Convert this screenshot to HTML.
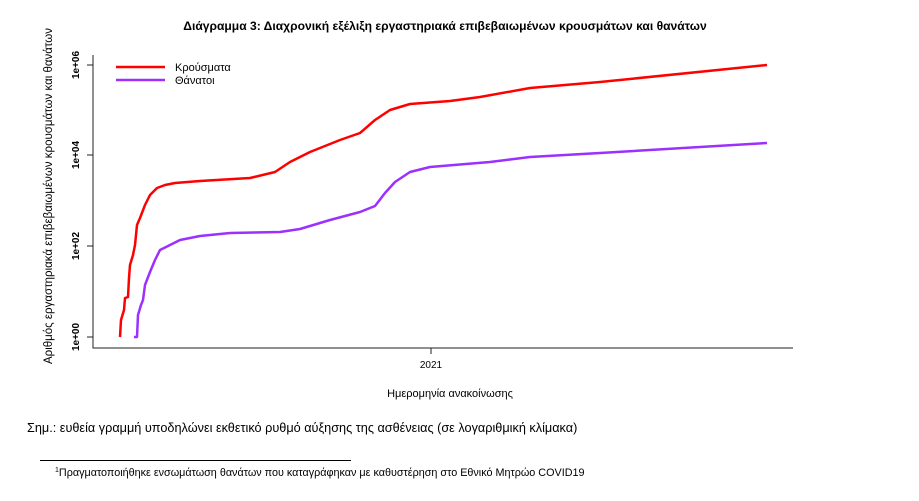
<!DOCTYPE html>
<html><head><meta charset="utf-8"><style>
body{margin:0;background:#fff;width:919px;height:496px;overflow:hidden;font-family:"Liberation Sans",sans-serif}
</style></head><body>
<svg width="919" height="496" viewBox="0 0 919 496" xmlns="http://www.w3.org/2000/svg" font-family="Liberation Sans, sans-serif">
<text x="445" y="30" text-anchor="middle" font-size="12.1" font-weight="bold">Διάγραμμα 3: Διαχρονική εξέλιξη εργαστηριακά επιβεβαιωμένων κρουσμάτων και θανάτων</text>
<g stroke="#222" stroke-width="1" fill="none">
<path d="M93,55 V348 H793"/>
<path d="M87,65 H93 M87,155 H93 M87,246 H93 M87,337 H93 M431,348 V354"/>
</g>
<g font-size="10" font-weight="bold" text-anchor="middle">
<text transform="translate(79,65) rotate(-90)">1e+06</text>
<text transform="translate(79,155) rotate(-90)">1e+04</text>
<text transform="translate(79,246) rotate(-90)">1e+02</text>
<text transform="translate(79,337) rotate(-90)">1e+00</text>
</g>
<text transform="translate(52,196) rotate(-90)" font-size="11.5" text-anchor="middle">Αριθμός εργαστηριακά επιβεβαιωμένων κρουσμάτων και θανάτων</text>
<text x="431" y="368" font-size="10" text-anchor="middle">2021</text>
<text x="450" y="397" font-size="11" text-anchor="middle">Ημερομηνία ανακοίνωσης</text>
<path d="M116,67 H165" stroke="red" stroke-width="2.5"/>
<path d="M116,80 H165" stroke="#9b30ff" stroke-width="2.5"/>
<text x="175" y="71" font-size="11">Κρούσματα</text>
<text x="175" y="84" font-size="11">Θάνατοι</text>
<polyline fill="none" stroke="red" stroke-width="2.5" stroke-linejoin="round" points="120,337 121,320 124,310 125,298 128,297 129,278 130,265 133,255 135,245 137,225 140,218 145,205 150,195 157,188 165,185 175,183 200,181 250,178 275,172 290,162 310,152 340,140 360,133 375,120 390,110 410,104 450,101 480,97 530,88 600,82 767,65"/>
<polyline fill="none" stroke="#9b30ff" stroke-width="2.5" stroke-linejoin="round" points="134,337 137,337 138,315 141,305 143,300 145,285 150,272 155,260 160,250 170,245 180,240 200,236 230,233 280,232 300,229 330,220 360,212 375,206 385,193 395,182 410,172 430,167 490,162 530,157 600,153 767,143"/>
<text x="27" y="432" font-size="12.7">Σημ.: ευθεία γραμμή υποδηλώνει εκθετικό ρυθμό αύξησης της ασθένειας (σε λογαριθμική κλίμακα)</text>
<path d="M40,460.5 H351" stroke="#000" stroke-width="1"/>
<text x="55" y="476" font-size="10.8"><tspan font-size="7" dy="-4">1</tspan><tspan dy="4">Πραγματοποιήθηκε ενσωμάτωση θανάτων που καταγράφηκαν με καθυστέρηση στο Εθνικό Μητρώο COVID19</tspan></text>
</svg>
</body></html>
